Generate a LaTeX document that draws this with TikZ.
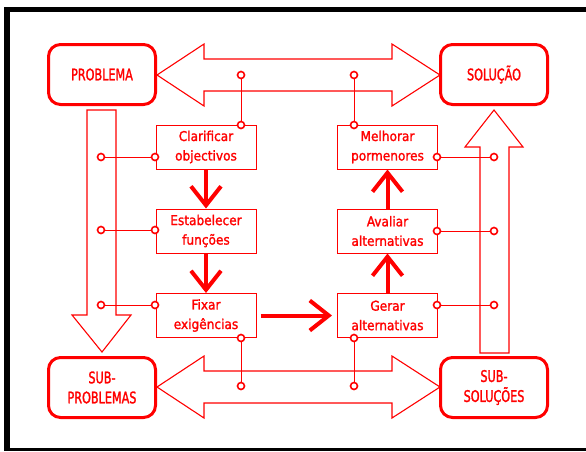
\documentclass[tikz,border=0pt]{standalone}
\usepackage{fontspec}
\usetikzlibrary{arrows.meta}
\newfontfamily\boxfont[FakeBold=1.5]{DejaVu Sans Condensed}
\newfontfamily\bigfont[FakeStretch=0.78,FakeBold=1.5]{DejaVu Sans Condensed}
\tikzset{
  bigbox/.style={draw=red, line width=3pt, rounded corners=12pt, minimum width=107pt, minimum height=60pt, inner sep=0pt, align=center, text=red, font=\bigfont\fontsize{16}{20}\selectfont},
  smallbox/.style={draw=red, line width=1pt, minimum width=100pt, minimum height=44pt, inner sep=0pt, align=center, text=red, font=\boxfont\fontsize{13.5}{19.5}\selectfont},
  hollow/.style={draw=red, line width=1.1pt, fill=white},
  dot/.style={circle, draw=red, line width=1.6pt, fill=white, minimum size=7pt, inner sep=0pt},
  link/.style={draw=red, line width=1pt},
  flow/.style={draw=red, line width=4pt, -{Straight Barb[length=19pt, width=30pt, line width=4pt]}},
}
\begin{document}
\begin{tikzpicture}[x=1pt, y=-1pt]
\useasboundingbox (0,0) rectangle (586,451);
% frame
\fill[black] (4,7) rectangle (586,12);
\fill[black] (4,7) rectangle (10,451);
\fill[black] (4,448) rectangle (586,450.5);

% hollow arrows
\path[hollow] (157,75) -- (204,44) -- (204,59) -- (392,59) -- (392,44) -- (440,75) -- (392,106) -- (392,91) -- (204,91) -- (204,106) -- cycle;
\path[hollow] (157,387) -- (204,356) -- (204,371) -- (392,371) -- (392,356) -- (440,387) -- (392,418) -- (392,403) -- (204,403) -- (204,418) -- cycle;
\path[hollow] (87,110) -- (116,110) -- (116,315) -- (131,315) -- (102,352) -- (72,315) -- (87,315) -- cycle;
\path[hollow] (480,353) -- (509,353) -- (509,147) -- (523,147) -- (494,110) -- (465,147) -- (480,147) -- cycle;

% big boxes
\node[bigbox] (prob) at (102,74.5) {PROBLEMA};
\node[bigbox] (sol) at (494,74.5) {SOLUÇÃO};
\node[bigbox] (subp) at (102,387.5) {SUB-\\PROBLEMAS};
\node[bigbox] (subs) at (494,387.5) {SUB-\\SOLUÇÕES};

% small boxes
\node[smallbox] (clar) at (206,147) {Clarificar\\objectivos};
\node[smallbox] (estab) at (206,231) {Estabelecer\\funções};
\node[smallbox] (fix) at (206,315.5) {Fixar\\exigências};
\node[smallbox] (melh) at (387.5,147) {Melhorar\\pormenores};
\node[smallbox] (aval) at (387.5,231) {Avaliar\\alternativas};
\node[smallbox] (ger) at (387.5,315.5) {Gerar\\alternativas};

% flow arrows
\coordinate (fe) at ([xshift=4pt]fix.east);
\coordinate (gw) at ([xshift=-5pt]ger.west);
\draw[flow] (clar.south) -- (estab.north);
\draw[flow] (estab.south) -- (fix.north);
\draw[flow] (fe) -- (gw);
\draw[flow] (ger.north) -- (aval.south);
\draw[flow] (aval.north) -- (melh.south);

% connector dots
\node[dot] (t1) at (241,75) {};
\node[dot] (t2) at (241,125) {};
\node[dot] (t3) at (354,75) {};
\node[dot] (t4) at (354,125) {};
\node[dot] (b1) at (241,386) {};
\node[dot] (b2) at (241,338) {};
\node[dot] (b3) at (354,386) {};
\node[dot] (b4) at (354,338) {};
\node[dot] (l1) at (101,157) {};
\node[dot] (l2) at (155,157) {};
\node[dot] (l3) at (101,230) {};
\node[dot] (l4) at (155,230) {};
\node[dot] (l5) at (101,305) {};
\node[dot] (l6) at (155,305) {};
\node[dot] (r1) at (494,157) {};
\node[dot] (r2) at (437,157) {};
\node[dot] (r3) at (494,231) {};
\node[dot] (r4) at (437,231) {};
\node[dot] (r5) at (494,305) {};
\node[dot] (r6) at (437,305) {};

\path[link] (t1) -- (t2) (t3) -- (t4) (b1) -- (b2) (b3) -- (b4)
  (l1) -- (l2) (l3) -- (l4) (l5) -- (l6)
  (r1) -- (r2) (r3) -- (r4) (r5) -- (r6);
\end{tikzpicture}
\end{document}
